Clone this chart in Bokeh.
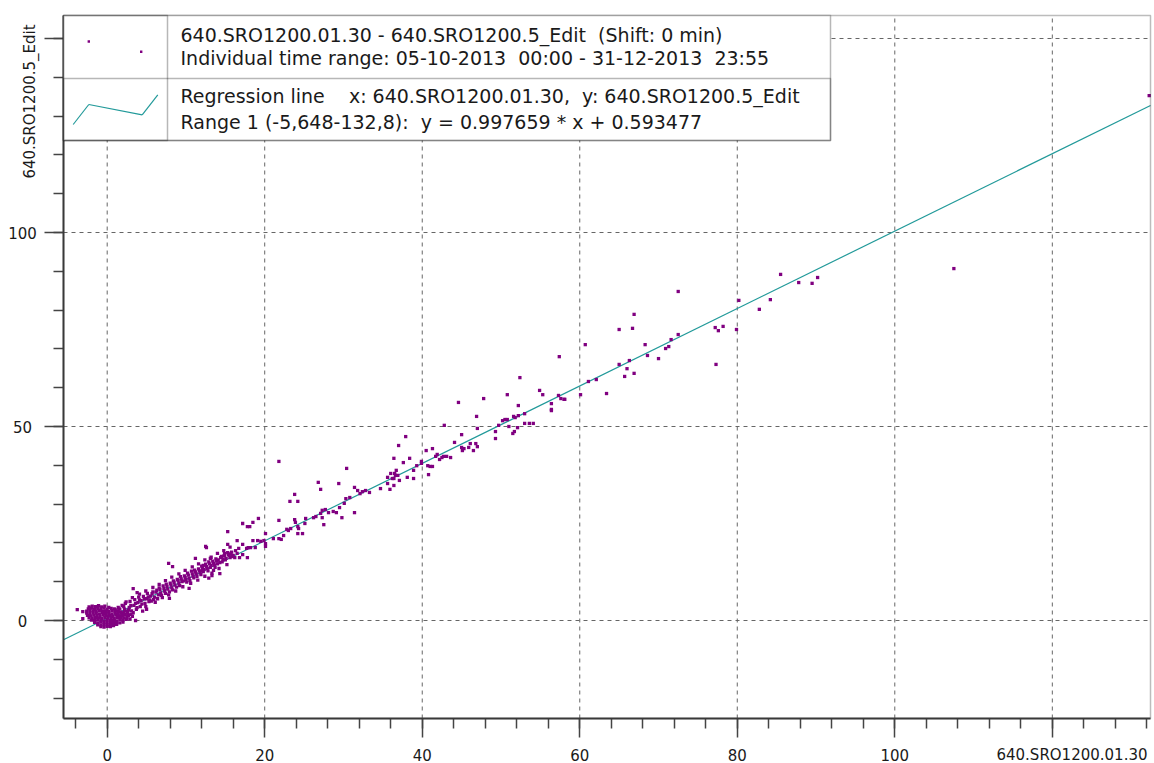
import math
from bokeh.plotting import figure
from bokeh.models import Range1d, FixedTicker, Label, BoxAnnotation, LinearAxis, Arrow
from bokeh.embed import file_html
from bokeh.resources import INLINE

# ---------------- data ----------------
cluster_pts = [
    (-2.3, 3.5), (-1.9, 3.7), (-1.5, 3.6), (-1.1, 3.8), (-0.7, 3.5), (-0.3, 3.7), (0.2, 3.4),
    (-2.4, 3.0), (-2.0, 3.2), (-1.6, 2.9), (-1.2, 3.1), (-0.8, 3.0), (-0.4, 3.2), (0.0, 2.9), (0.5, 3.1), (0.9, 3.0),
    (-2.6, 2.4), (-2.2, 2.6), (-1.8, 2.5), (-1.4, 2.3), (-1.0, 2.6), (-0.6, 2.4), (-0.2, 2.5), (0.2, 2.3), (0.6, 2.6), (1.0, 2.4), (1.4, 2.5),
    (-2.6, 1.9), (-2.2, 1.8), (-1.8, 2.0), (-1.4, 1.9), (-1.0, 1.7), (-0.6, 2.0), (-0.2, 1.8), (0.2, 1.9), (0.6, 1.7), (1.0, 2.0), (1.4, 1.8), (1.8, 1.9), (2.1, 2.1),
    (-2.5, 1.3), (-2.1, 1.2), (-1.7, 1.4), (-1.3, 1.3), (-0.9, 1.1), (-0.5, 1.4), (-0.1, 1.2), (0.3, 1.3), (0.7, 1.1), (1.1, 1.4), (1.5, 1.2), (1.9, 1.3), (2.3, 1.5),
    (-2.3, 0.7), (-1.9, 0.6), (-1.5, 0.8), (-1.1, 0.7), (-0.7, 0.5), (-0.3, 0.8), (0.1, 0.6), (0.5, 0.7), (0.9, 0.5), (1.3, 0.8), (1.7, 0.6), (2.1, 0.7), (2.5, 0.9),
    (-2.0, 0.1), (-1.6, 0.0), (-1.2, 0.2), (-0.8, 0.1), (-0.4, -0.1), (0.0, 0.2), (0.4, 0.0), (0.8, 0.1), (1.2, -0.1), (1.6, 0.2), (2.0, 0.1), (2.4, 0.3),
    (-1.6, -0.5), (-1.2, -0.6), (-0.8, -0.4), (-0.4, -0.6), (0.0, -0.5), (0.4, -0.7), (0.8, -0.5), (1.2, -0.4), (1.6, -0.6), (2.0, -0.4),
    (-1.2, -1.1), (-0.8, -1.2), (-0.4, -1.0), (0.0, -1.2), (0.4, -1.1), (0.8, -1.3), (1.2, -1.0),
    (-0.8, -1.6), (-0.4, -1.7), (0.0, -1.5), (0.4, -1.6),
    (-3.8, 2.8), (-3.1, 2.3), (-3.1, 0.5), (3.6, 0.0), (2.7, 2.7), (3.0, 1.6), (2.9, 0.4),
]

band_pts = [
    (1.0, 2.8), (1.2, 1.6), (1.4, 3.4), (1.5, 0.9), (1.7, 2.2), (1.9, 3.9), (2.0, 1.4), (2.2, 2.9), (2.3, 4.4), (2.5, 0.4),
    (2.6, 2.0), (2.8, 3.4), (2.9, 4.9), (3.1, 2.5), (3.2, 1.1), (3.4, 3.9), (3.5, 5.4), (3.7, 2.9), (3.9, 4.6), (4.0, 6.0),
    (4.2, 3.6), (4.3, 5.1), (4.5, 2.4), (4.6, 6.2), (4.8, 4.4), (5.0, 5.6), (5.1, 7.0), (5.3, 4.9), (5.5, 6.3), (5.6, 5.0),
    (5.8, 7.4), (6.0, 6.0), (6.1, 4.7), (6.3, 7.8), (6.5, 6.6), (6.6, 8.4), (6.8, 7.1), (7.0, 5.9), (7.1, 8.9), (7.3, 7.6),
    (7.5, 9.4), (7.7, 8.1), (7.8, 6.6), (8.0, 9.6), (8.2, 8.4), (8.4, 10.2), (8.6, 9.1), (8.7, 7.6), (8.9, 10.6), (9.1, 9.6),
    (9.3, 11.3), (9.5, 10.0), (9.6, 8.7), (9.8, 11.5), (10.0, 10.6), (10.2, 12.2), (10.4, 10.9), (10.6, 9.6), (10.7, 12.7), (10.9, 11.4),
    (11.1, 13.0), (11.3, 12.0), (11.5, 10.4), (11.6, 13.3), (11.8, 12.3), (12.0, 14.0), (12.2, 12.6), (12.4, 11.4), (12.5, 14.5), (12.7, 13.4),
    (12.9, 15.1), (13.1, 13.7), (13.3, 12.2), (13.4, 15.3), (13.6, 14.3), (13.8, 15.9), (14.0, 14.6), (14.2, 13.4), (14.4, 16.2), (14.6, 15.1),
    (14.8, 16.6), (15.0, 15.6), (15.2, 14.4), (15.4, 17.0), (15.6, 16.2), (15.8, 17.6),
    (3.3, 8.2), (3.8, 7.2), (7.8, 14.7), (8.3, 13.9), (11.2, 16.0), (12.5, 19.1),
    (1.3, 2.5), (1.6, 3.0), (1.8, 1.2), (2.1, 3.6), (2.4, 2.4), (2.7, 1.3), (3.0, 3.8), (3.3, 2.0), (3.6, 4.4), (3.8, 3.3),
    (4.1, 5.3), (4.4, 4.2), (4.7, 5.6), (4.9, 3.6), (5.2, 6.1), (5.4, 5.3), (5.7, 6.9), (5.9, 5.4), (6.2, 7.3), (6.4, 5.6),
    (6.7, 8.0), (6.9, 6.5), (7.2, 8.3), (7.4, 7.0), (7.6, 8.7), (7.9, 7.4), (8.1, 9.1), (8.3, 7.9), (8.5, 9.8), (8.8, 8.6),
    (9.0, 10.3), (9.2, 9.0), (9.4, 10.7), (9.7, 10.2), (9.9, 11.1), (10.1, 9.9), (10.3, 11.7), (10.5, 10.3), (10.8, 12.0), (11.0, 11.0),
    (11.2, 12.5), (11.4, 11.4), (11.7, 12.8), (11.9, 11.8), (12.1, 13.5), (12.3, 13.1), (12.6, 13.9), (12.8, 12.8), (13.0, 14.6), (13.2, 14.2),
    (13.5, 14.8), (13.7, 13.7), (13.9, 15.3), (14.1, 15.6), (14.3, 14.9), (14.5, 16.5), (14.7, 15.7), (14.9, 17.2), (15.1, 16.0), (15.5, 16.7),
    (15.7, 17.2), (15.9, 16.5),
    (2.4, 4.8), (3.2, 5.9), (4.1, 6.8), (4.9, 7.6), (5.8, 8.5), (6.6, 9.3), (7.4, 10.3), (8.2, 11.2), (9.1, 12.0), (9.9, 12.9),
    (10.8, 13.8), (11.6, 14.6), (12.4, 15.6), (13.2, 16.3), (14.0, 17.3), (14.8, 18.0), (15.6, 18.9),
    (5.0, 2.9), (7.9, 5.7), (10.4, 8.3), (12.9, 10.9), (14.3, 12.1),
]

mid_pts = [
    (12.2, 14.2), (12.1, 12.9), (12.6, 18.8), (13.1, 16.0), (13.3, 11.6), (13.5, 12.9), (14.9, 16.8),
    (15.3, 17.5), (15.3, 19.6), (15.3, 22.9), (16.0, 16.8), (16.2, 16.2), (16.3, 18.0), (16.5, 17.3), (16.5, 20.6), (16.7, 18.6),
    (16.8, 16.2), (17.2, 17.0), (17.2, 19.6), (17.2, 25.0), (17.7, 18.6), (17.8, 16.2), (17.8, 24.2), (17.9, 18.8), (18.1, 24.2),
    (18.2, 18.8), (18.5, 20.6), (18.5, 25.3), (18.8, 18.8), (19.1, 20.6), (19.2, 26.3), (19.5, 20.4), (19.9, 20.6), (20.1, 19.8),
    (20.1, 19.1), (20.1, 22.4), (21.1, 21.1), (21.8, 21.1), (21.8, 25.8), (21.8, 41.0), (22.1, 20.9), (22.4, 21.9), (22.8, 23.5),
    (23.0, 23.2), (23.2, 30.7), (23.3, 23.7), (23.8, 26.0), (23.8, 32.5), (23.9, 25.3), (24.2, 24.2), (24.2, 22.4), (24.2, 30.7),
    (24.3, 23.7), (24.8, 22.4), (25.1, 25.0), (25.2, 26.3), (26.2, 26.5), (26.5, 26.8), (26.8, 35.6), (27.1, 27.6), (27.1, 33.8),
    (27.3, 26.5), (27.3, 28.4), (27.5, 24.7), (27.7, 28.6), (28.1, 27.8), (28.7, 28.1), (29.1, 27.8), (29.4, 35.3), (29.5, 29.1),
    (29.8, 26.5), (30.1, 30.2), (30.3, 31.4), (30.4, 39.2), (30.8, 31.7), (31.4, 27.8), (31.4, 34.3), (31.8, 33.5), (32.1, 32.7),
    (32.4, 33.2), (32.8, 33.5), (33.3, 33.0), (34.7, 34.0), (35.6, 35.3), (35.9, 33.8), (36.4, 36.6), (36.5, 37.9), (36.9, 37.4),
    (37.1, 36.1), (36.4, 34.8),
]

upper_pts = [
    (35.6, 36.9), (36.0, 37.9), (36.2, 36.6), (36.6, 37.4), (36.7, 38.7), (36.4, 41.8), (37.0, 45.1), (37.6, 40.7),
    (37.9, 47.4), (38.1, 36.9), (38.4, 41.8), (38.9, 36.6), (38.9, 38.7), (39.3, 39.9), (39.9, 41.0), (39.9, 40.5), (40.5, 43.8),
    (40.7, 39.9), (40.8, 37.6), (41.0, 39.7), (41.3, 39.7), (41.3, 44.3), (41.7, 42.3), (41.9, 42.8), (42.2, 41.5), (42.5, 42.0),
    (42.7, 42.3), (42.8, 50.3), (43.1, 42.3), (43.6, 42.0), (44.1, 45.9), (44.6, 56.2), (45.0, 47.9), (45.0, 44.6), (45.1, 43.8),
    (45.3, 44.3), (45.9, 44.6), (46.1, 45.6), (46.5, 43.8), (46.8, 45.6), (46.9, 52.6), (47.0, 44.8), (47.0, 49.5), (47.8, 57.2),
    (49.3, 48.7), (49.3, 46.9), (49.7, 50.3), (50.2, 51.5), (50.5, 51.8), (50.8, 51.8), (50.8, 58.2), (51.0, 50.0), (51.5, 48.2),
    (51.6, 52.6), (51.7, 48.7), (51.8, 52.3), (52.1, 49.7), (52.2, 52.8), (52.2, 55.4), (52.4, 62.6), (53.0, 53.3), (53.0, 50.8),
    (53.6, 50.8), (54.1, 50.8), (54.9, 59.3), (55.3, 58.2), (56.4, 55.9), (56.4, 54.4), (56.4, 54.1), (57.3, 58.0), (57.4, 68.0),
    (57.6, 57.2), (58.0, 57.0), (58.1, 57.0), (60.1, 58.2), (60.7, 71.1), (61.1, 61.6), (62.1, 62.1), (63.4, 58.5),
    (65.0, 75.0), (65.0, 66.0), (65.7, 62.9), (66.0, 64.9), (66.3, 67.0), (66.7, 75.3), (66.9, 78.9), (66.9, 63.7), (68.3, 71.1),
    (68.6, 68.3), (70.0, 67.5), (70.9, 70.1), (71.3, 70.6), (71.6, 72.4), (72.5, 84.8), (72.5, 73.7), (77.2, 75.5), (77.3, 66.0),
    (77.6, 74.7), (78.2, 75.8), (79.9, 75.0), (80.2, 82.5), (82.8, 80.2), (84.2, 82.7), (85.5, 89.2), (87.8, 87.1), (89.5, 86.9),
    (90.2, 88.4), (107.5, 90.7), (132.3, 135.3),
]

reg_slope = 0.997659
reg_intercept = 0.593477
reg_x_range = [-5.648, 132.8]

x_major_ticks = [0, 20, 40, 60, 80, 100, 120]
x_tick_labels = ["0", "20", "40", "60", "80", "100", "640.SRO1200.01.30"]
y_major_ticks = [0, 50, 100, 150]
y_tick_labels = ["0", "50", "100", "640.SRO1200.5_Edit"]
x_minor_ticks = list(range(-4, 133, 4))
y_minor_ticks = list(range(-20, 156, 10))

NB = "\u00a0"
legend_texts = [
    "640.SRO1200.01.30 - 640.SRO1200.5_Edit " + NB + "(Shift: 0 min)",
    "Individual time range: 05-10-2013 " + NB + "00:00 - 31-12-2013 " + NB + "23:55",
    "Regression line " + NB * 3 + "x: 640.SRO1200.01.30, " + NB + "y: 640.SRO1200.5_Edit",
    "Range 1 (-5,648-132,8): " + NB + "y = 0.997659 * x + 0.593477",
]

# ---------------- geometry ----------------
W, H = 1154, 763
FL, FR, FT, FB = 63, 1150, 15, 718          # plot-area edges in page pixels
PXU_X = 7.876                               # pixels per x unit
PXU_Y = 3.88                                # pixels per y unit
X0 = -5.548
X1 = X0 + (FR - FL) / PXU_X
Y0 = -(FB - 620) / PXU_Y
Y1 = Y0 + (FB - FT) / PXU_Y
# the frame spans the whole canvas; the plot area is drawn inside it
XR0, XR1 = X0 - FL / PXU_X, X1 + (W - FR) / PXU_X
YR0, YR1 = Y0 - (H - FB) / PXU_Y, Y1 + FT / PXU_Y

PURPLE = "#800080"
TEAL = "#229a9a"
FONT = "DejaVu Sans"
AXC = "#444444"
TXT = "#1a1a1a"


def sx(px):      # page px -> screen x (frame == canvas)
    return px


def sy(py):      # page py -> screen y (measured from bottom)
    return H - py


p = figure(width=W, height=H, x_range=Range1d(XR0, XR1), y_range=Range1d(YR0, YR1),
           x_axis_location=None, y_axis_location=None, title=None,
           output_backend="svg", toolbar_location=None, min_border=0)
p.background_fill_color = "white"
p.border_fill_color = "white"
p.outline_line_color = None
for g in p.grid:
    g.visible = False

# axes fixed at the edges of the plot area
yax = LinearAxis(fixed_location=X0, bounds=(Y0, Y1),
                 ticker=FixedTicker(ticks=y_major_ticks, minor_ticks=y_minor_ticks))
xax = LinearAxis(fixed_location=Y0, bounds=(X0, X1),
                 ticker=FixedTicker(ticks=x_major_ticks, minor_ticks=x_minor_ticks))
for ax, ticks in ((yax, y_major_ticks), (xax, x_major_ticks)):
    ax.major_tick_out = 19
    ax.major_tick_in = 0
    ax.minor_tick_out = 10
    ax.minor_tick_in = 0
    ax.axis_line_color = AXC
    ax.axis_line_width = 2
    ax.major_tick_line_color = AXC
    ax.major_tick_line_width = 1.5
    ax.minor_tick_line_color = AXC
    ax.minor_tick_line_width = 1.5
    ax.major_label_overrides = {t: "" for t in ticks}
    ax.major_label_text_font_size = "1px"
p.add_layout(yax, "left")
p.add_layout(xax, "below")

# dashed grid limited to the plot area
p.segment(x0=x_major_ticks, y0=[Y0] * len(x_major_ticks), x1=x_major_ticks, y1=[Y1] * len(x_major_ticks),
          line_color="#666666", line_dash="4 4", line_width=1, level="underlay")
p.segment(x0=[X0] * len(y_major_ticks), y0=y_major_ticks, x1=[X1] * len(y_major_ticks), y1=y_major_ticks,
          line_color="#666666", line_dash="4 4", line_width=1, level="underlay")

# regression line (clipped to the plot area)
lx = [max(reg_x_range[0], X0), min(reg_x_range[1], X1)]
p.line(lx, [reg_slope * v + reg_intercept for v in lx], line_color=TEAL, line_width=1.2)

# scatter points
all_pts = cluster_pts + band_pts + mid_pts + upper_pts
p.scatter([q[0] for q in all_pts], [q[1] for q in all_pts], marker="square", size=3.3,
          fill_color=PURPLE, line_color=None)

# plot-area border
p.add_layout(BoxAnnotation(left=X0, right=X1, bottom=Y0, top=Y1, fill_alpha=0,
                           line_color="#222222", line_width=1.5))

# ---------------- legend box ----------------
for (l, r, t, b, fa) in ((63, 830, 15, 140, 1.0), (63, 830, 78, 140, 0.0), (63, 167, 15, 140, 0.0)):
    p.add_layout(BoxAnnotation(left=sx(l), right=sx(r), top=sy(t), bottom=sy(b),
                               left_units="screen", right_units="screen", top_units="screen", bottom_units="screen",
                               fill_color="white", fill_alpha=fa, line_color="#111111", line_width=1.5))

for (dx, dy) in ((88.3, 41), (140.7, 51.3)):
    p.add_layout(BoxAnnotation(left=sx(dx - 1.2), right=sx(dx + 1.2), top=sy(dy - 1.2), bottom=sy(dy + 1.2),
                               left_units="screen", right_units="screen", top_units="screen", bottom_units="screen",
                               fill_color=PURPLE, fill_alpha=1.0, line_color=None))

leg_line = [(72.7, 124), (88.3, 104), (141.7, 114.3), (157.3, 94.3)]
for (a, b) in zip(leg_line[:-1], leg_line[1:]):
    p.add_layout(Arrow(end=None, start=None, x_start=sx(a[0]), y_start=sy(a[1]), x_end=sx(b[0]), y_end=sy(b[1]),
                       start_units="screen", end_units="screen", line_color=TEAL, line_width=1.2))

for txt, mid in zip(legend_texts, (34, 57, 95.5, 121)):
    p.add_layout(Label(x=sx(180), y=sy(mid), x_units="screen", y_units="screen", text=txt,
                       text_font=FONT, text_font_size="19px", text_color=TXT,
                       text_baseline="middle", text_align="left"))

# ---------------- tick labels & axis names ----------------
for t, lab in zip(x_major_ticks[:-1], x_tick_labels[:-1]):
    p.add_layout(Label(x=t, y=sy(754), x_units="data", y_units="screen", text=lab,
                       text_font=FONT, text_font_size="15px", text_color=TXT,
                       text_align="center", text_baseline="middle"))
p.add_layout(Label(x=sx(1147), y=sy(754), x_units="screen", y_units="screen", text=x_tick_labels[-1],
                   text_font=FONT, text_font_size="15px", text_color=TXT,
                   text_align="right", text_baseline="middle"))

for t, lab in zip(y_major_ticks[:-1], y_tick_labels[:-1]):
    p.add_layout(Label(x=sx(22), y=t, x_units="screen", y_units="data", text=lab,
                       text_font=FONT, text_font_size="15px", text_color=TXT,
                       text_align="center", text_baseline="middle"))
p.add_layout(Label(x=sx(29), y=sy(101), x_units="screen", y_units="screen", text=y_tick_labels[-1],
                   angle=math.pi / 2, text_font=FONT, text_font_size="15px", text_color=TXT,
                   text_align="center", text_baseline="middle"))

open("out.html", "w").write(file_html(p, INLINE))
